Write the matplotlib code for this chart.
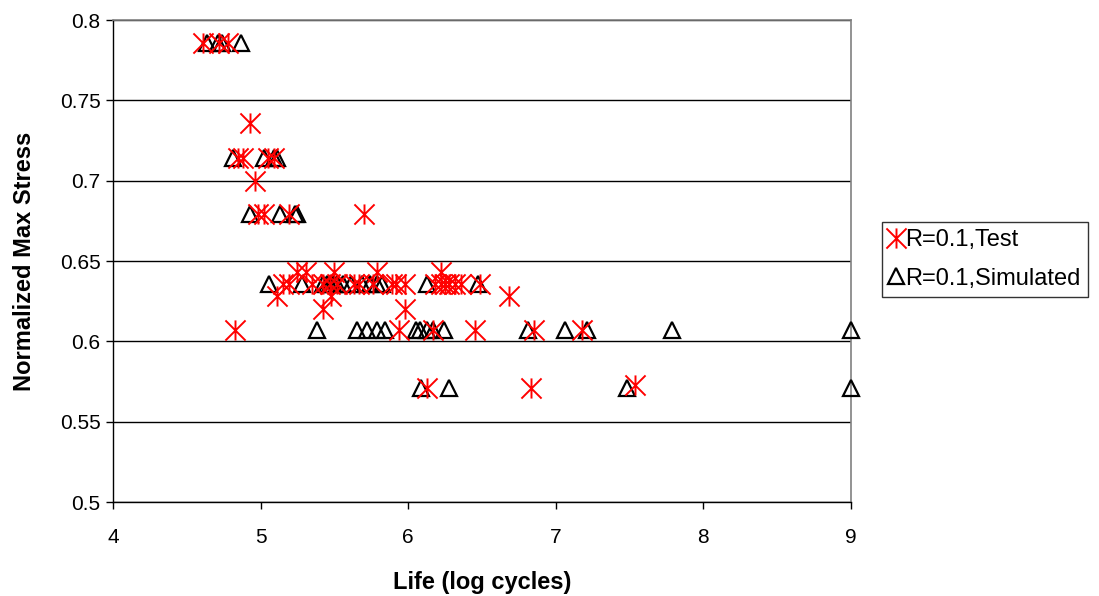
import numpy as np
import matplotlib.pyplot as plt
from matplotlib.path import Path

plt.rcParams['font.family'] = ['Liberation Sans', 'DejaVu Sans']

# R=0.1 test data (life in log cycles, normalized max stress)
test_life = [4.61, 4.72, 4.78,
             4.93,
             4.85, 4.88, 5.05, 5.09,
             4.96,
             4.98, 5.02, 5.19, 5.70,
             5.25, 5.31, 5.50, 5.79, 6.22,
             5.15, 5.19, 5.35, 5.42, 5.47, 5.52, 5.63, 5.67, 5.76, 5.89, 5.92,
             5.98, 6.18, 6.22, 6.25, 6.28, 6.32, 6.36, 6.49,
             5.11, 5.48, 6.68,
             5.42, 5.98,
             4.83, 5.94, 6.17, 6.45, 6.85, 7.18,
             6.13, 6.83,
             7.54]
test_stress = [0.786] * 3 + [0.736] + [0.714] * 4 + [0.700] + [0.679] * 4 + \
              [0.643] * 5 + [0.636] * 19 + [0.628] * 3 + [0.620] * 2 + \
              [0.607] * 6 + [0.571] * 2 + [0.573]

# R=0.1 simulated data
sim_life = [4.64, 4.71, 4.74, 4.87,
            4.81, 5.02, 5.09, 5.11,
            4.93, 5.13, 5.23, 5.25,
            5.06, 5.28, 5.42, 5.45, 5.47, 5.49, 5.52, 5.56, 5.61, 5.69, 5.74,
            5.79, 5.82, 6.13, 6.47,
            5.38, 5.65, 5.72, 5.79, 5.84, 6.05, 6.08, 6.13, 6.17, 6.24, 6.81,
            7.06, 7.21, 7.79, 9.0,
            6.09, 6.28, 7.48, 9.0]
sim_stress = [0.786] * 4 + [0.714] * 4 + [0.679] * 4 + [0.636] * 15 + \
             [0.607] * 15 + [0.571] * 4

# Excel style asterisk: vertical bar plus an X
star = Path([(-1, -1), (1, 1), (-1, 1), (1, -1), (0, -1), (0, 1)],
            [Path.MOVETO, Path.LINETO] * 3)

fig = plt.figure(figsize=(10.99, 5.96), dpi=100)
ax = fig.add_axes([0.1028, 0.1577, 0.6715, 0.8087])

ax.plot(test_life, test_stress, linestyle='none', marker=star, markersize=14.5,
        markeredgecolor='#ff0000', markeredgewidth=1.4, color='#ff0000',
        label='R=0.1,Test', zorder=4, clip_on=False)
ax.plot(sim_life, sim_stress, linestyle='none', marker='^', markersize=11,
        markerfacecolor='none', markeredgecolor='black', markeredgewidth=1.6,
        label='R=0.1,Simulated', zorder=3, clip_on=False)

ax.set_xlim(4, 9)
ax.set_ylim(0.5, 0.8)
ax.set_xticks(np.arange(4, 10, 1))
ax.set_yticks(np.arange(0.5, 0.81, 0.05))
ax.set_yticklabels(['0.5', '0.55', '0.6', '0.65', '0.7', '0.75', '0.8'])
ax.yaxis.grid(True, color='black', linewidth=1)
ax.set_axisbelow(True)

for s in ['top', 'right']:
    ax.spines[s].set_color('#808080')
    ax.spines[s].set_linewidth(1.2)
for s in ['left', 'bottom']:
    ax.spines[s].set_color('black')
    ax.spines[s].set_linewidth(1)

ax.tick_params(axis='both', direction='out', length=5, width=1,
               labelsize=15, colors='black')
ax.tick_params(axis='x', pad=14)
ax.tick_params(axis='y', pad=4)

ax.set_xlabel('Life (log cycles)', fontsize=17, fontweight='bold', labelpad=17)
ax.set_ylabel('Normalized Max Stress', fontsize=17, fontweight='bold', labelpad=17)

leg = fig.legend(loc='upper left', bbox_to_anchor=(882 / 1099, 1 - 222 / 596),
                 fontsize=17, frameon=True, fancybox=False, edgecolor='black',
                 handlelength=0.6, handletextpad=0.1, borderpad=0.3,
                 labelspacing=0.7, borderaxespad=0)
leg.get_frame().set_linewidth(1)

fig.savefig('out.png', dpi=100)
